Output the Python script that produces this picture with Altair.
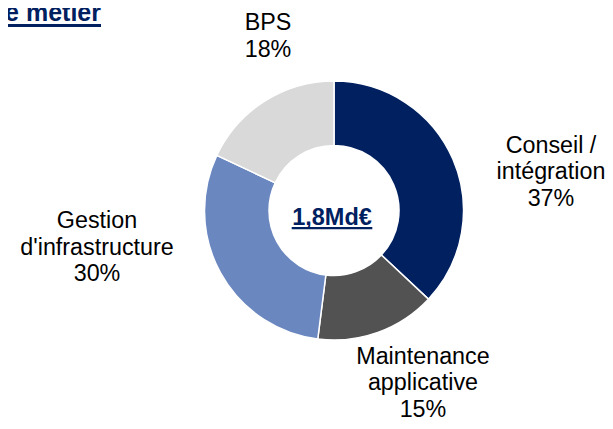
import altair as alt
import pandas as pd

# ---- data ----
categories = ["Conseil / intégration", "Maintenance applicative", "Gestion d'infrastructure", "BPS"]
label_lines = ["Conseil /\nintégration", "Maintenance\napplicative", "Gestion\nd'infrastructure", "BPS"]
shares = [37, 15, 30, 18]
colors = ["#002060", "#525252", "#6A87C0", "#D9D9D9"]
total_label = ["1,8Md€"]
title_text = ["Répartition du marché par ligne de métier"]

df = pd.DataFrame({
    "cat": categories,
    "lines": label_lines,
    "share": shares,
    "order": list(range(len(categories))),
})
df["label"] = df["lines"] + "\n" + df["share"].astype(str) + "%"
total = sum(shares)

# ---- layout / style ----
W, H = 597, 413
CX, CY = 326, 202.5
NAVY = "#002060"
FONT = "Liberation Sans"
label_offsets = [(42.6, 10.6), (24.6, -32.6), (-70.5, -80.8), (35.8, -27.0)]
theta_scale = alt.Scale(domain=[0, total])

base = alt.Chart(df).transform_stack(
    stack="share", groupby=[], as_=["s0", "s1"], sort=[alt.SortField("order")]
).transform_calculate(mid="(datum.s0 + datum.s1) / 2")

arc = base.mark_arc(outerRadius=129.5, innerRadius=65, stroke="white", strokeWidth=1.5).encode(
    theta=alt.Theta("s0:Q", scale=theta_scale),
    theta2="s1:Q",
    color=alt.Color("cat:N", scale=alt.Scale(domain=categories, range=colors), legend=None),
    x=alt.value(CX),
    y=alt.value(CY),
)

layers = [arc]
for i, (dx, dy) in enumerate(label_offsets):
    layers.append(
        base.transform_filter(alt.datum.order == i).mark_text(
            radius=190, dx=dx, dy=dy, font=FONT, fontSize=23.3, lineBreak="\n",
            lineHeight=26.6, align="center", baseline="middle", color="#000000",
        ).encode(theta=alt.Theta("mid:Q", scale=theta_scale), text="label:N",
                 x=alt.value(CX), y=alt.value(CY))
    )

center_df = pd.DataFrame({"t": total_label})
center = alt.Chart(center_df).mark_text(
    font=FONT, fontSize=23.5, fontWeight="bold", color=NAVY, align="center",
    baseline="alphabetic", dx=-2, dy=14.5,
).encode(text="t:N", x=alt.value(CX), y=alt.value(CY))
center_ul = alt.Chart(center_df).mark_rule(color=NAVY, strokeWidth=2.3).encode(
    x=alt.value(283.7), x2=alt.value(364.3), y=alt.value(220.2)
)

title_df = pd.DataFrame({"t": title_text})
title = alt.Chart(title_df).mark_text(
    font=FONT, fontSize=25, fontWeight="bold", color=NAVY, align="right", baseline="alphabetic",
).encode(text="t:N", x=alt.value(93), y=alt.value(13))
title_ul = alt.Chart(title_df).mark_rule(color=NAVY, strokeWidth=3).encode(
    x=alt.value(0), x2=alt.value(93), y=alt.value(17.5)
)

chart = alt.layer(*layers, center, center_ul, title, title_ul).properties(
    width=W, height=H, autosize=alt.AutoSizeParams(type="none"), padding=0
).configure_view(stroke=None)

chart.save("out.html", embed_options={"renderer": "svg", "actions": False})
